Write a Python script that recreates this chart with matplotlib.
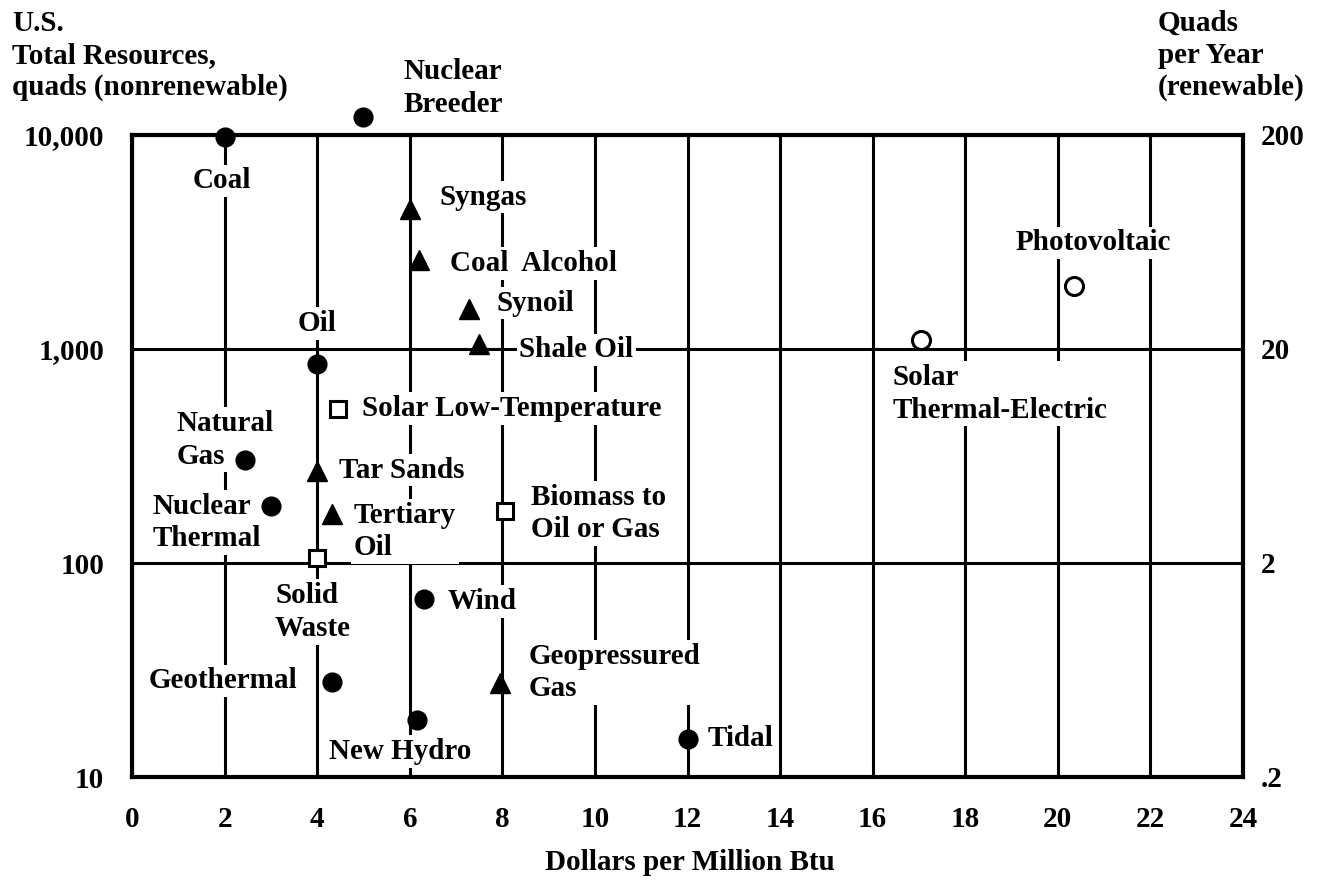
import numpy as np
import matplotlib
import matplotlib.pyplot as plt

matplotlib.use('agg')

plt.rcParams['font.family'] = ['Liberation Serif', 'DejaVu Serif']
plt.rcParams['font.weight'] = 'bold'
FS = 21

# dollars per million Btu vs quads (left scale)
dot_names = ['Coal', 'Nuclear Breeder', 'Oil', 'Natural Gas', 'Nuclear Thermal',
             'Wind', 'Geothermal', 'New Hydro', 'Tidal']
dot_x = [2.0, 5.0, 4.0, 2.45, 3.0, 6.31, 4.31, 6.15, 12.0]
dot_y = [9800, 12100, 850, 303, 185, 68, 27.8, 18.5, 15]

tri_names = ['Syngas', 'Coal Alcohol', 'Synoil', 'Shale Oil', 'Tar Sands',
             'Tertiary Oil', 'Geopressured Gas']
tri_x = [6.0, 6.19, 7.28, 7.5, 4.0, 4.31, 7.95]
tri_y = [4500, 2600, 1540, 1055, 269, 170, 27.5]

sq_names = ['Solar Low-Temperature', 'Biomass to Oil or Gas', 'Solid Waste']
sq_x = [4.45, 8.06, 4.0]
sq_y = [525, 175, 105]

ring_names = ['Photovoltaic', 'Solar Thermal-Electric']
ring_x = [20.35, 17.05]
ring_y = [1970, 1100]

# label text, x, y, horizontal alignment
labels = [
    ('Coal', 1.95, 6100, 'center'),
    ('Nuclear\nBreeder', 5.86, 16600, 'left'),
    ('Syngas', 6.65, 5130, 'left'),
    ('Coal  Alcohol', 6.88, 2510, 'left'),
    ('Synoil', 7.88, 1640, 'left'),
    ('Shale Oil', 8.37, 990, 'left'),
    ('Oil', 4.0, 1320, 'center'),
    ('Solar Low-Temperature', 4.96, 525, 'left'),
    ('Natural\nGas', 0.96, 376, 'left'),
    ('Tar Sands', 4.47, 272, 'left'),
    ('Nuclear\nThermal', 0.45, 155, 'left'),
    ('Tertiary\nOil', 4.79, 140, 'left'),
    ('Biomass to\nOil or Gas', 8.61, 171, 'left'),
    ('Solid\nWaste', 3.09, 59, 'left'),
    ('Wind', 6.82, 66, 'left'),
    ('Geothermal', 3.56, 28.1, 'right'),
    ('Geopressured\nGas', 8.57, 30.9, 'left'),
    ('New Hydro', 5.80, 13.1, 'center'),
    ('Tidal', 12.43, 15.1, 'left'),
    ('Photovoltaic', 20.77, 3130, 'center'),
    ('Solar\nThermal-Electric', 16.43, 617, 'left'),
]

xticks = list(range(0, 25, 2))
left_ticks = [10, 100, 1000, 10000]
left_labels = ['10', '100', '1,000', '10,000']
right_ticks = [0.2, 2, 20, 200]
right_labels = ['.2', '2', '20', '200']

fig = plt.figure(figsize=(13.19, 8.84), dpi=100)
ax = fig.add_axes([132 / 1319, 1 - 777 / 884, 1111 / 1319, 642 / 884])
ax.set_yscale('log')
ax.set_xlim(0, 24)
ax.set_ylim(10, 10000)
ax.set_xticks(xticks)
ax.set_yticks(left_ticks)
ax.set_yticklabels(left_labels)
ax.minorticks_off()
ax.tick_params(length=0, labelsize=FS)
ax.tick_params(axis='y', pad=20)
ax.tick_params(axis='x', pad=21)
ax.set_axisbelow(True)
ax.grid(True, color='black', linewidth=2.2)
for s in ax.spines.values():
    s.set_linewidth(3)

ax2 = ax.twinx()
ax2.set_yscale('log')
ax2.set_ylim(0.2, 200)
ax2.set_yticks(right_ticks)
ax2.set_yticklabels(right_labels)
ax2.minorticks_off()
ax2.tick_params(length=0, labelsize=FS, pad=13)
for s in ax2.spines.values():
    s.set_visible(False)

ax.plot(dot_x, dot_y, 'o', color='black', markersize=13.5, zorder=5, clip_on=False)
ax.plot(tri_x, tri_y, '^', color='black', markersize=15, zorder=5, clip_on=False)
ax.plot(sq_x, sq_y, 's', markerfacecolor='white', markeredgecolor='black',
        markeredgewidth=2.2, markersize=12, zorder=5, clip_on=False)
ax.plot(ring_x, ring_y, 'o', markerfacecolor='white', markeredgecolor='black',
        markeredgewidth=2.2, markersize=13, zorder=5, clip_on=False)

for txt, x, y, ha in labels:
    ax.text(x, y, txt, ha=ha, va='center', fontsize=FS, linespacing=1.25,
            zorder=4, clip_on=False,
            bbox=dict(facecolor='white', edgecolor='none', pad=2))

fig.text(12 / 1319, 1 - 10 / 884, 'U.S.\nTotal Resources,\nquads (nonrenewable)',
         ha='left', va='top', fontsize=FS, linespacing=1.22)
fig.text(1158 / 1319, 1 - 10 / 884, 'Quads\nper Year\n(renewable)',
         ha='left', va='top', fontsize=FS, linespacing=1.22)
fig.text(690 / 1319, 1 - 862 / 884, 'Dollars per Million Btu',
         ha='center', va='center', fontsize=FS)

fig.savefig('out.png', dpi=100)
